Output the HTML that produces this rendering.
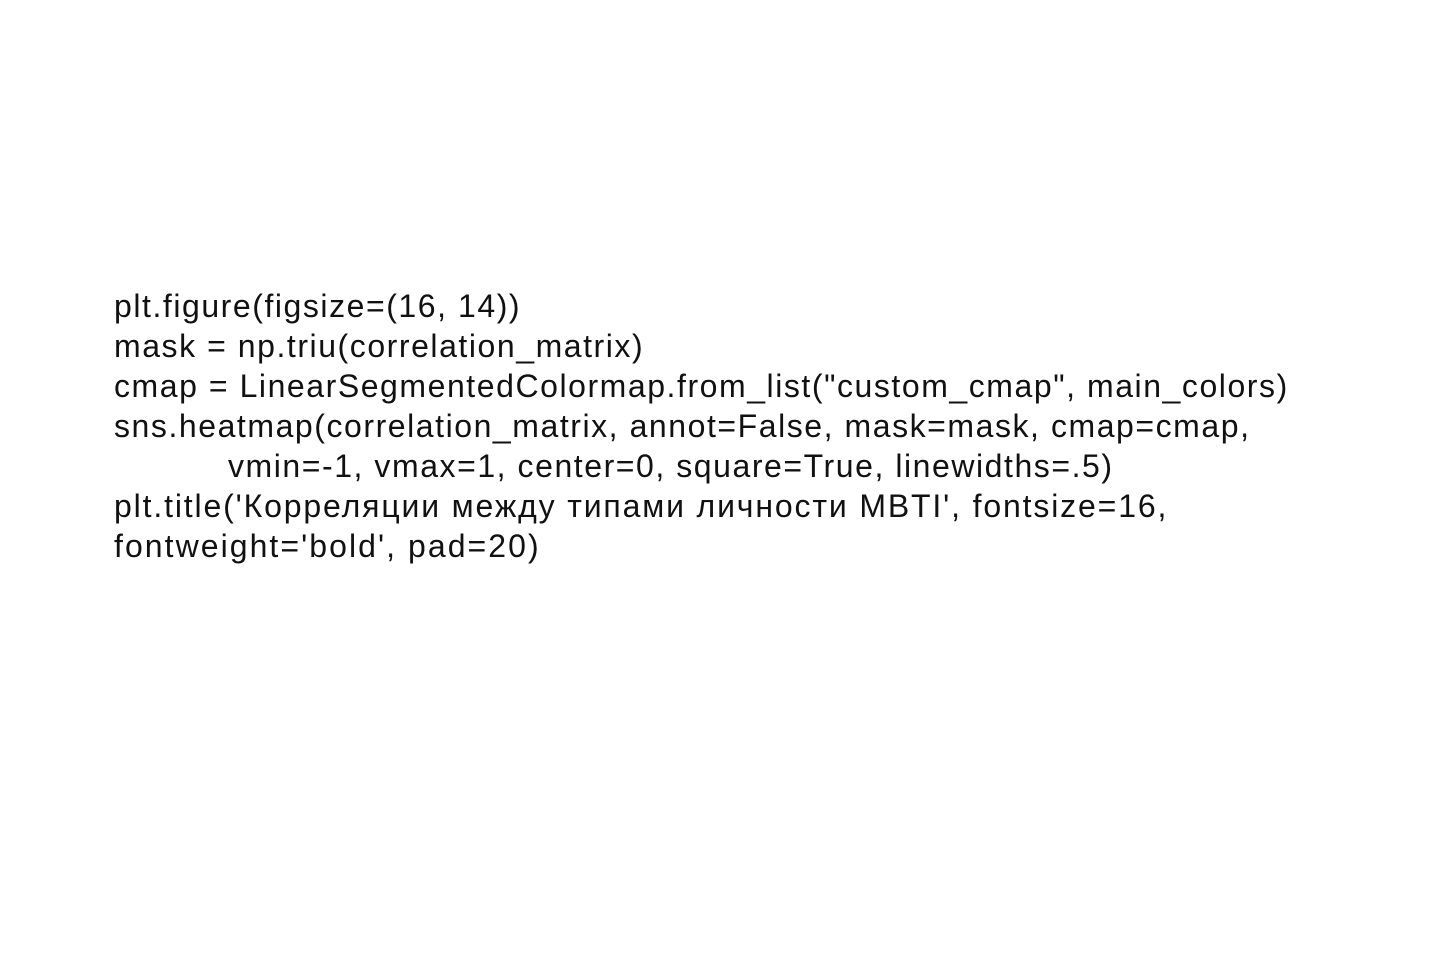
<!DOCTYPE html>
<html>
<head>
<meta charset="utf-8">
<style>
html,body{margin:0;padding:0;background:#fff;}
body{width:1440px;height:955px;position:relative;overflow:hidden;}
.l{position:absolute;left:114px;font-family:"Liberation Sans","Noto Sans CJK SC",sans-serif;font-size:32px;line-height:40px;color:#111;white-space:pre;letter-spacing:1.55px;}
</style>
</head>
<body>
<div class="l" style="top:286px">plt.figure(figsize=(16, 14))</div>
<div class="l" style="top:326px">mask = np.triu(correlation_matrix)</div>
<div class="l" style="top:366px">cmap = LinearSegmentedColormap.from_list("custom_cmap", main_colors)</div>
<div class="l" style="top:406px">sns.heatmap(correlation_matrix, annot=False, mask=mask, cmap=cmap,</div>
<div class="l" style="top:446px;left:228px">vmin=-1, vmax=1, center=0, square=True, linewidths=.5)</div>
<div class="l" style="top:486px;letter-spacing:1.85px">plt.title('Корреляции между типами личности MBTI', fontsize=16,</div>
<div class="l" style="top:526px;letter-spacing:2.05px">fontweight='bold', pad=20)</div>
</body>
</html>
